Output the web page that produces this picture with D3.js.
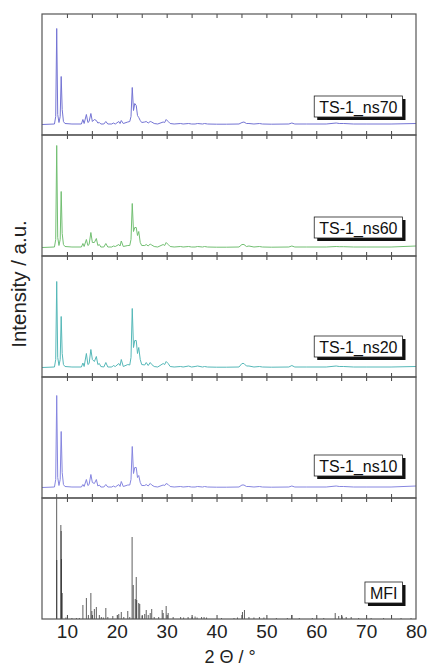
<!DOCTYPE html>
<html>
<head>
<meta charset="utf-8">
<script src="https://cdn.jsdelivr.net/npm/d3@7"></script>
<style>
  body { margin: 0; background: #fff; }
  text { font-family: Arial, "Liberation Sans", sans-serif; }
</style>
</head>
<body>
<div id="chart"></div>
<script>

// 2 theta grid shared by the four measured patterns
var twoTheta = [5, 7.5, 7.75, 7.95, 8.15, 8.4, 8.65, 8.85, 9.05, 9.3,
  9.6, 11, 12.9, 13.2, 13.45, 13.9, 14.2, 14.45, 14.8, 15.1,
  15.5, 15.9, 16.2, 16.5, 16.8, 17.4, 17.8, 18.2, 19.0, 19.3,
  19.7, 20.4, 20.65, 20.9, 21.3, 22.2, 22.6, 22.85, 23.1, 23.35,
  23.6, 23.9, 24.15, 24.4, 24.7, 25.0, 25.6, 25.9, 26.3, 26.7,
  27.0, 27.5, 28.2, 29.3, 29.6, 29.9, 30.3, 30.7, 31.5, 32.8,
  33.3, 34.4, 35.0, 35.7, 36.2, 37.2, 37.6, 38.2, 40, 42,
  44.5, 45.1, 45.5, 46.0, 46.5, 47.5, 48.6, 49.2, 51, 54.5,
  55.1, 55.7, 58, 62, 64.0, 64.6, 65.5, 67.5, 70, 75,
  80];

var ns70 = [0, 0.5, 8, 96, 10, 2, 8, 48, 15, 3,
  1, 0.5, 0.5, 5, 1, 10, 2, 3, 11, 3,
  5, 4, 1.5, 2, 0.5, 0.5, 3, 0.5, 0.5, 1.5,
  0.5, 3, 1, 4, 1, 2.5, 3, 8, 37, 14,
  21, 19, 9, 7, 4, 2, 2.5, 3, 1.5, 3,
  2.5, 1, 0.5, 2.5, 2, 5, 3, 1, 0.5, 1,
  0.5, 1, 0.5, 0.5, 1, 0.5, 1, 0.5, 0.3, 0.3,
  0.5, 2, 2.5, 1, 1, 0.5, 1, 0.5, 0.3, 0.5,
  1.5, 0.5, 0.5, 0.5, 1.5, 1, 1, 0.5, 0.5, 0.5,
  1];

var ns60 = [0, 0.5, 8, 102, 10, 2, 8, 56, 14, 3,
  1, 0.5, 0.5, 4, 1, 8, 2, 3, 15, 5,
  5, 9, 2, 3, 0.5, 0.5, 4, 0.5, 0.5, 1.5,
  1, 3, 1.5, 6.5, 1, 2, 2, 8, 44, 16,
  20, 20, 12, 16, 5, 2, 2, 3, 1.5, 3.5,
  2.5, 1, 0.5, 3, 2, 5, 3, 1, 0.5, 1,
  0.5, 1, 0.5, 0.5, 1, 0.5, 1, 0.5, 0.3, 0.3,
  0.5, 3, 3, 1, 1.5, 0.5, 1, 0.5, 0.3, 0.5,
  1.5, 0.5, 0.5, 0.5, 1, 0.8, 0.8, 0.5, 0.5, 0.5,
  1.5];

var ns20 = [0, 0.5, 8, 86, 10, 2, 8, 51, 14, 3,
  1, 0.5, 0.5, 4.5, 1, 14, 3, 4, 18, 8,
  6, 11, 3, 4, 1, 0.5, 5, 0.5, 0.5, 2,
  1, 4, 2, 8, 1, 3, 2.5, 10, 59, 20,
  27, 27, 14, 20, 8, 3, 2.5, 5, 2, 5,
  3, 1, 0.5, 4, 3, 6, 4, 1, 0.5, 1,
  0.5, 1.5, 0.5, 1, 1.5, 0.5, 1, 0.5, 0.3, 0.3,
  0.5, 4, 4, 1.5, 1.5, 0.5, 1, 0.5, 0.3, 0.5,
  2, 0.5, 0.5, 0.5, 1.5, 1, 1, 0.5, 0.5, 0.5,
  1];

var ns10 = [0, 0.5, 8, 92, 10, 2, 8, 56, 15, 3,
  1, 0.5, 0.5, 3, 1, 8, 2, 3, 13, 5,
  4, 8, 1.5, 2.5, 0.5, 0.5, 3, 0.5, 0.5, 1.5,
  0.5, 3, 1, 6, 1, 2.5, 2.5, 8, 41, 14,
  20, 20, 10, 12, 5, 2, 2, 3, 1.5, 4,
  2.5, 1, 0.5, 2.5, 2, 4, 3, 1, 0.5, 1,
  0.5, 1, 0.5, 0.5, 1, 0.5, 1, 0.5, 0.3, 0.3,
  0.5, 2.5, 2.5, 1, 1, 0.5, 1, 0.5, 0.3, 0.5,
  1.5, 0.5, 0.5, 0.5, 1.5, 1, 1, 0.5, 0.5, 0.5,
  1.5];

// simulated MFI reflections (stick pattern)
var mfiTheta = [7.94, 7.96, 8.78, 8.85, 8.9, 9.05, 9.8, 11.0, 11.9, 12.5,
  13.2, 13.9, 14.3, 14.8, 15.0, 15.5, 15.9, 16.5, 16.9, 17.3,
  17.8, 18.2, 19.2, 20.4, 20.9, 21.4, 22.2, 22.6, 23.07, 23.3,
  23.7, 23.9, 24.0, 24.4, 24.6, 25.1, 25.6, 25.9, 26.3, 26.7,
  27.0, 27.5, 28.4, 29.1, 29.3, 29.9, 30.3, 31.3, 32.8, 33.4,
  34.3, 35.1, 35.7, 36.1, 37.0, 37.5, 38.0, 41.0, 43.5, 44.2,
  45.2, 45.6, 46.5, 47.5, 48.6, 49.5, 52.0, 54.2, 55.1, 56.6,
  59.2, 61.5, 63.8, 64.5, 65.2, 66.0, 67.0, 68.5, 71, 73.5,
  77, 79];
var mfiIntensity = [125, 59, 94, 88, 60, 26, 1.5, 1, 1, 1,
  14, 21, 4, 26, 8, 10, 12, 4, 2, 1.5,
  11, 2, 3, 5, 7, 2, 8, 2, 82, 34,
  20, 42, 19, 16, 15, 3, 5, 9, 4, 6,
  10, 2, 2, 9, 6, 13, 6, 2, 2, 1.5,
  2, 2, 2.5, 1.5, 2, 2, 1.5, 1, 1, 1.5,
  7, 9, 2, 1.5, 2, 1.5, 1, 1, 4, 1,
  1, 1, 6, 3, 2.5, 2, 2, 1, 1, 1,
  1, 1];

var sampleNames = ["TS-1_ns70", "TS-1_ns60", "TS-1_ns20", "TS-1_ns10", "MFI"];
var sampleSeries = [ns70, ns60, ns20, ns10];
var xTicks = [10, 20, 30, 40, 50, 60, 70, 80];
var xMinorTicks = [10, 15, 20, 25, 30, 35, 40, 45, 50, 55, 60, 65, 70, 75];

var traceColors = ["#7474d4", "#72bf72", "#55b8b8", "#8686e0"];
var baseLow = [-10.5, -8.5, -9.5, -10.5];   // where zero sits in each panel
var labelLift = [39, 39, 41, 43, 37];

var svgWidth = 428;
var svgHeight = 668;
var margin = { top: 14, right: 12, bottom: 49, left: 42 };
var width = svgWidth - margin.left - margin.right;
var height = svgHeight - margin.top - margin.bottom;
var panelH = height / 5;

var svg = d3.select("#chart").append("svg")
  .attr("width", svgWidth)
  .attr("height", svgHeight);

var chart = svg.append("g")
  .attr("transform", `translate(${margin.left}, ${margin.top})`);

var x = d3.scaleLinear().domain([5, 80]).range([0, width]);

chart.append("clipPath").attr("id", "clip")
  .append("rect").attr("width", width).attr("height", height);

var plots = chart.append("g").attr("clip-path", "url(#clip)");

sampleNames.forEach(function(name, i) {
  var top = i * panelH;
  var bottom = top + panelH;

  if (i < 4) {
    var y = d3.scaleLinear()
      .domain([baseLow[i], baseLow[i] + panelH])
      .range([bottom, top]);
    var line = d3.line()
      .x(function(d, k) { return x(twoTheta[k]); })
      .y(function(d) { return y(d); });
    plots.append("path")
      .datum(sampleSeries[i])
      .attr("d", line)
      .attr("fill", "none")
      .attr("stroke", traceColors[i])
      .attr("stroke-width", 1);
  } else {
    var yS = d3.scaleLinear().domain([0, panelH]).range([bottom, top]);
    plots.selectAll(".stick")
      .data(mfiTheta)
      .enter()
      .append("line")
      .attr("class", "stick")
      .attr("x1", function(d) { return x(d); })
      .attr("x2", function(d) { return x(d); })
      .attr("y1", yS(0))
      .attr("y2", function(d, k) { return yS(mfiIntensity[k]); })
      .attr("stroke", "#2a2a2a")
      .attr("stroke-opacity", 0.75)
      .attr("stroke-width", 1);
  }

  // inward ticks top and bottom of each panel
  chart.append("g")
    .attr("transform", `translate(0, ${top})`)
    .call(d3.axisBottom(x).tickValues(xMinorTicks).tickSize(4).tickFormat(""))
    .call(function(g) { g.select(".domain").remove(); })
    .selectAll("line").attr("stroke", "#444");
  chart.append("g")
    .attr("transform", `translate(0, ${bottom})`)
    .call(d3.axisTop(x).tickValues(xMinorTicks).tickSize(4).tickFormat(""))
    .call(function(g) { g.select(".domain").remove(); })
    .selectAll("line").attr("stroke", "#444");

  chart.append("rect")
    .attr("x", 0)
    .attr("y", top)
    .attr("width", width)
    .attr("height", panelH)
    .attr("fill", "none")
    .attr("stroke", "#555")
    .attr("stroke-width", 1.2);

  // label box with drop shadow
  var boxRight = 360.5;
  var boxH = 21;
  var boxTop = bottom - labelLift[i];
  var lab = chart.append("g");
  var txt = lab.append("text")
    .attr("x", boxRight - 5)
    .attr("y", boxTop + boxH - 4)
    .attr("text-anchor", "end")
    .attr("font-size", "16px")
    .attr("fill", "#111")
    .text(name);
  var tw = txt.node().getComputedTextLength();
  var boxW = tw + 10;
  lab.insert("rect", "text")
    .attr("x", boxRight - boxW + 3)
    .attr("y", boxTop + 3)
    .attr("width", boxW)
    .attr("height", boxH)
    .attr("fill", "#111");
  lab.insert("rect", "text")
    .attr("x", boxRight - boxW)
    .attr("y", boxTop)
    .attr("width", boxW)
    .attr("height", boxH)
    .attr("fill", "#fff")
    .attr("stroke", "#222")
    .attr("stroke-width", 0.8);
});

// tick labels under the bottom panel
var bottomAxis = chart.append("g")
  .attr("transform", `translate(0, ${height})`)
  .call(d3.axisBottom(x).tickValues(xTicks).tickSize(0).tickPadding(6));
bottomAxis.select(".domain").remove();
bottomAxis.selectAll("text")
  .attr("font-size", "19px")
  .attr("font-family", "Arial, 'Liberation Sans', sans-serif")
  .attr("fill", "#222");

// axis titles
svg.append("text")
  .attr("x", 230)
  .attr("y", 663)
  .attr("text-anchor", "middle")
  .attr("font-size", "18px")
  .attr("fill", "#222")
  .text("2 \u0398 / \u00b0");

svg.append("text")
  .attr("transform", "rotate(-90)")
  .attr("x", -284)
  .attr("y", 26)
  .attr("text-anchor", "middle")
  .attr("font-size", "20.5px")
  .attr("fill", "#222")
  .text("Intensity / a.u.");

</script>
</body>
</html>
